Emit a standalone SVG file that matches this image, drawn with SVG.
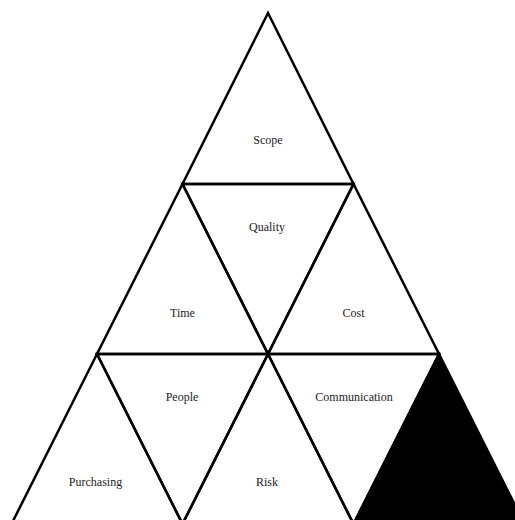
<svg xmlns="http://www.w3.org/2000/svg" width="515" height="520" viewBox="0 0 515 520">
<style>
.tri{fill:none;stroke:#000;stroke-width:2.5;stroke-linejoin:miter}
.solid{fill:#000;stroke:#000;stroke-width:2.5}
.lbl{font-family:"Liberation Serif","Times New Roman",serif;font-size:12px;fill:#222;text-anchor:middle}
</style>
<rect width="515" height="520" fill="#fff"/>
<g id="scope"><polygon class="tri" points="268,13 182.5,184 353.5,184"/><text class="lbl" x="268" y="144">Scope</text></g>
<g id="quality"><polygon class="tri" points="182.5,184 353.5,184 268,354"/><text class="lbl" x="267" y="231">Quality</text></g>
<g id="time"><polygon class="tri" points="182.5,184 97,354 268,354"/><text class="lbl" x="182.5" y="317">Time</text></g>
<g id="cost"><polygon class="tri" points="353.5,184 268,354 439,354"/><text class="lbl" x="353.5" y="317">Cost</text></g>
<g id="people"><polygon class="tri" points="97,354 268,354 182.5,524"/><text class="lbl" x="182" y="401">People</text></g>
<g id="communication"><polygon class="tri" points="268,354 439,354 353.5,524"/><text class="lbl" x="354" y="401">Communication</text></g>
<g id="purchasing"><polygon class="tri" points="97,354 11.5,524 182.5,524"/><text class="lbl" x="95.5" y="486">Purchasing</text></g>
<g id="risk"><polygon class="tri" points="268,354 182.5,524 353.5,524"/><text class="lbl" x="267" y="486">Risk</text></g>
<g id="blank"><polygon class="solid" points="439,354 353.5,524 524.5,524"/></g>
<g id="connectors"></g>
</svg>
